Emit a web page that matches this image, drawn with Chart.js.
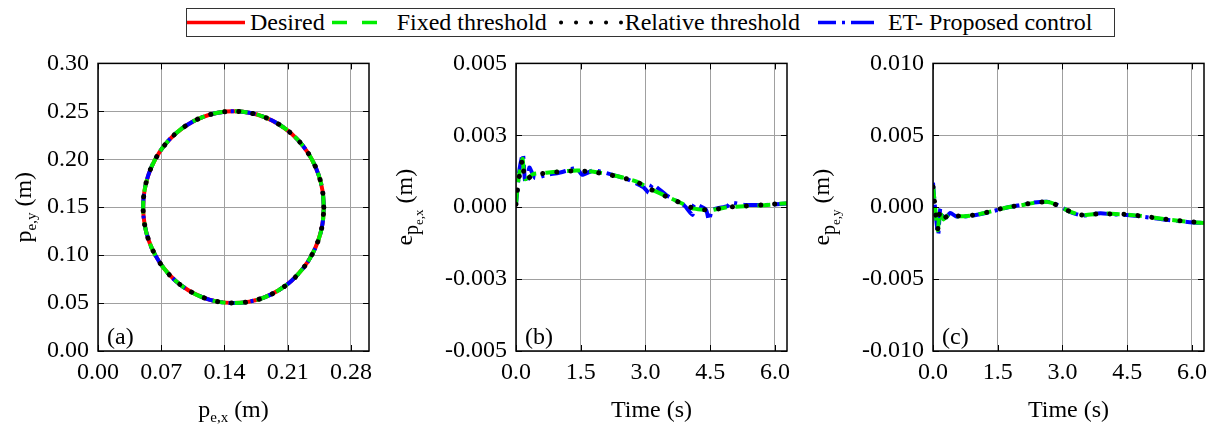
<!DOCTYPE html>
<html>
<head>
<meta charset="utf-8">
<script src="https://cdn.jsdelivr.net/npm/chart.js@4.4.1/dist/chart.umd.min.js"></script>
<style>
  body { margin: 0; width: 1215px; height: 431px; background: #fff; position: relative; overflow: hidden; font-family: "Liberation Serif", serif; }
  canvas { position: absolute; top: 40px; }
  #legend {
    position: absolute; left: 186px; top: 8px; width: 929px; height: 29px; box-sizing: border-box;
    border: 1px solid #333; display: flex; align-items: center; font-size: 24px; white-space: nowrap; color: #000;
  }
  #legend svg { display: block; flex: none; }
  #legend span { flex: none; }
</style>
</head>
<body>
<div id="legend">
  <svg width="58" height="27"><line x1="0" y1="13.5" x2="58" y2="13.5" stroke="#ff0000" stroke-width="3.5"/></svg>
  <span style="margin-left:5px">Desired</span>
  <svg width="47" height="27" style="margin-left:7px"><line x1="0" y1="13.5" x2="47" y2="13.5" stroke="#00ee00" stroke-width="3.5" stroke-dasharray="15 15"/></svg>
  <span style="margin-left:18px">Fixed threshold</span>
  <svg width="64" height="27" style="margin-left:12px"><line x1="2" y1="13.5" x2="62" y2="13.5" stroke="#000" stroke-width="4" stroke-linecap="round" stroke-dasharray="0.1 14.9"/></svg>
  <span style="margin-left:2px">Relative threshold</span>
  <svg width="56" height="27" style="margin-left:18px"><line x1="0" y1="13.5" x2="56" y2="13.5" stroke="#0000ff" stroke-width="3.5" stroke-dasharray="18 6 3 6 23"/></svg>
  <span style="margin-left:14px">ET- Proposed control</span>
</div>
<canvas id="ca" width="390" height="391" style="left:0px"></canvas>
<canvas id="cb" width="410" height="391" style="left:390px"></canvas>
<canvas id="cc" width="415" height="391" style="left:800px"></canvas>
<script>
// ---- data ----

// (a) end-effector path, same for all four cases at this scale
const pathX = [0.250, 0.2485, 0.2440, 0.2366, 0.2266, 0.2143, 0.2000, 0.1842, 0.1674, 0.150,
  0.1326, 0.1158, 0.1000, 0.0857, 0.0734, 0.0634, 0.0560, 0.0515, 0.050,
  0.0515, 0.0560, 0.0634, 0.0734, 0.0857, 0.1000, 0.1158, 0.1326, 0.150,
  0.1674, 0.1842, 0.2000, 0.2143, 0.2266, 0.2366, 0.2440, 0.2485, 0.250];
const pathY = [0.150, 0.1674, 0.1842, 0.2000, 0.2143, 0.2266, 0.2366, 0.2440, 0.2485, 0.250,
  0.2485, 0.2440, 0.2366, 0.2266, 0.2143, 0.2000, 0.1842, 0.1674, 0.150,
  0.1326, 0.1158, 0.1000, 0.0857, 0.0734, 0.0634, 0.0560, 0.0515, 0.050,
  0.0515, 0.0560, 0.0634, 0.0734, 0.0857, 0.1000, 0.1158, 0.1326, 0.150];

// (b) x position error
const timeBx = [0, 0.05, 0.15, 0.21, 0.40, 0.71, 1.02, 1.41, 1.80, 2.19, 2.53, 2.81, 3.08, 3.50, 3.89, 4.12, 4.51, 4.90, 5.29, 5.75, 6.28];
const exFixed = [0.0001, 0.0009, 0.00168, 0.00098, 0.00115, 0.0012, 0.00124, 0.00128, 0.00123, 0.00113, 0.00101, 0.00088, 0.00066, 0.00037, 0.0001, -0.00005, -0.0001, 0.0, 0.00003, 0.00007, 0.00014];
const exRel = [0.0001, 0.0008, 0.00165, 0.00095, 0.00112, 0.00119, 0.00123, 0.00127, 0.00122, 0.00112, 0.001, 0.00087, 0.00065, 0.00036, 0.0001, -0.00004, -0.0001, 0.0, 0.00004, 0.00008, 0.00015];
const timeBxEt = [0, 0.08, 0.16, 0.21, 0.27, 0.31, 0.44, 0.70, 1.00, 1.17, 1.40, 1.53, 1.80, 2.30, 2.60, 2.95, 3.08, 3.16, 3.50, 3.90, 4.09, 4.13, 4.40, 4.47, 4.55, 4.90, 4.98, 5.30, 5.80, 6.28];
const exEt = [0.0001, 0.0013, 0.00185, 0.0009, 0.00085, 0.00138, 0.00102, 0.00112, 0.0012, 0.00127, 0.00137, 0.00113, 0.00128, 0.0011, 0.00096, 0.0007, 0.0005, 0.00079, 0.0004, 0.00006, -0.00027, 0.0001, -0.00008, -0.00045, -0.0001, 0.00004, 0.00016, 0.00008, 0.00008, 0.00013];

// (c) y position error
const timeCy = [0, 0.05, 0.11, 0.16, 0.24, 0.39, 0.54, 0.89, 1.27, 1.66, 2.04, 2.34, 2.65, 2.84, 3.19, 3.46, 3.88, 4.14, 4.49, 4.87, 5.41, 5.95, 6.28];
const eyFixed = [0.0015, 0.0, -0.0016, -0.0003, -0.00085, -0.00048, -0.00062, -0.00058, -0.00035, -0.00005, 0.00014, 0.0003, 0.00037, 0.0002, -0.00033, -0.00055, -0.00044, -0.00046, -0.00051, -0.00062, -0.00085, -0.00102, -0.0011];
const eyRel = [0.0014, 0.0, -0.0015, -0.0003, -0.0008, -0.00046, -0.0006, -0.00057, -0.00034, -0.00004, 0.00015, 0.00031, 0.00036, 0.00019, -0.00032, -0.00054, -0.00045, -0.00047, -0.0005, -0.00063, -0.00084, -0.00101, -0.00108];
const timeCyEt = [0, 0.04, 0.12, 0.17, 0.25, 0.40, 0.54, 0.89, 1.27, 1.66, 2.04, 2.34, 2.65, 2.84, 3.19, 3.46, 3.88, 4.14, 4.49, 4.87, 5.41, 5.95, 6.28];
const eyEt = [0.0017, 0.0002, -0.0019, -0.0001, -0.0009, -0.0004, -0.00065, -0.0006, -0.00037, -0.00006, 0.00016, 0.00033, 0.00038, 0.00022, -0.00035, -0.00058, -0.00042, -0.00049, -0.00055, -0.00066, -0.00088, -0.00104, -0.0011];

// ticks
const pathTicks = [0, 0.07, 0.14, 0.21, 0.28];
const pathTickLabels = ['0.00', '0.07', '0.14', '0.21', '0.28'];
const pathYTicks = [0, 0.05, 0.10, 0.15, 0.20, 0.25, 0.30];
const pathYTickLabels = ['0.00', '0.05', '0.10', '0.15', '0.20', '0.25', '0.30'];
const timeTicks = [0, 1.5, 3.0, 4.5, 6.0];
const timeTickLabels = ['0.0', '1.5', '3.0', '4.5', '6.0'];
const exTicks = [-0.005, -0.0025, 0, 0.0025, 0.005];
const exTickLabels = ['-0.005', '-0.003', '0.000', '0.003', '0.005'];
const eyTicks = [-0.010, -0.005, 0, 0.005, 0.010];
const eyTickLabels = ['-0.010', '-0.005', '0.000', '0.005', '0.010'];

// ---- drawing ----
const FONT = '"Liberation Serif", "Times New Roman", serif';
const pts = (xs, ys) => xs.map((v, i) => ({ x: v, y: ys[i] }));

const styles = {
  desired: { borderColor: '#ff0000', borderWidth: 4 },
  fixed: { borderColor: '#00ee00', borderWidth: 4, borderDash: [13, 9] },
  rel: { borderColor: '#000000', borderWidth: 5, borderDash: [0.1, 14], borderCapStyle: 'round' },
  et: { borderColor: '#0000ff', borderWidth: 4, borderDash: [16, 6, 3, 6] }
};

// draw text pieces with sub/subsub scripts; centred on (x, y) baseline
function drawRuns(ctx, runs, x, y, rotate) {
  let total = 0;
  runs.forEach(r => { ctx.font = r[1] + 'px ' + FONT; total += ctx.measureText(r[0]).width; });
  ctx.save();
  ctx.translate(x, y);
  if (rotate) ctx.rotate(-Math.PI / 2);
  ctx.textBaseline = 'alphabetic';
  ctx.textAlign = 'left';
  ctx.fillStyle = '#000';
  let pos = -total / 2;
  runs.forEach(r => {
    ctx.font = r[1] + 'px ' + FONT;
    ctx.fillText(r[0], pos, r[2]);
    pos += ctx.measureText(r[0]).width;
  });
  ctx.restore();
}

const framePlugin = {
  id: 'frame',
  afterDraw(chart, args, opts) {
    const { ctx, chartArea: a } = chart;
    const xs = chart.scales.x, ys = chart.scales.y;
    ctx.save();
    ctx.strokeStyle = '#000';
    ctx.lineWidth = 1;
    ctx.beginPath();
    xs.ticks.forEach(t => {
      const p = Math.round(xs.getPixelForValue(t.value)) + 0.5;
      ctx.moveTo(p, a.bottom); ctx.lineTo(p, a.bottom - 6);
      ctx.moveTo(p, a.top); ctx.lineTo(p, a.top + 6);
    });
    ys.ticks.forEach(t => {
      const p = Math.round(ys.getPixelForValue(t.value)) + 0.5;
      ctx.moveTo(a.left, p); ctx.lineTo(a.left + 6, p);
      ctx.moveTo(a.right, p); ctx.lineTo(a.right - 6, p);
    });
    ctx.stroke();
    ctx.lineWidth = 1.5;
    ctx.strokeRect(a.left, a.top, a.right - a.left, a.bottom - a.top);
    ctx.font = '24px ' + FONT;
    ctx.fillStyle = '#000';
    ctx.fillText(opts.tag, a.left + 9, a.bottom - 7);
    ctx.restore();
    drawRuns(ctx, opts.xTitle, (a.left + a.right) / 2, 377, false);
    drawRuns(ctx, opts.yTitle, opts.yTitleX, (a.top + a.bottom) / 2, true);
  }
};

function axis(min, max, ticks, labels, fit) {
  return {
    type: 'linear', min: min, max: max,
    afterBuildTicks: s => { s.ticks = ticks.map(v => ({ value: v })); },
    afterFit: fit,
    grid: { color: '#a0a0a0', lineWidth: 1, drawTicks: false },
    border: { display: false },
    ticks: {
      color: '#000', font: { family: FONT, size: 24 },
      callback: (v, i) => labels[i]
    }
  };
}

function makeChart(id, datasets, o) {
  const xAx = axis(o.xMin, o.xMax, o.xTicks, o.xLabels, s => { s.height = 80; });
  xAx.ticks.padding = 7;
  xAx.ticks.maxRotation = 0;
  const yAx = axis(o.yMin, o.yMax, o.yTicks, o.yLabels, s => { s.width = o.yWidth; });
  yAx.ticks.padding = 9;
  return new Chart(document.getElementById(id), {
    type: 'scatter',
    data: { datasets: datasets },
    options: {
      responsive: false, animation: false, devicePixelRatio: 1,
      layout: { padding: { top: 22, right: o.padRight, left: 0, bottom: 0 } },
      elements: { point: { radius: 0 }, line: { tension: o.tension } },
      scales: { x: xAx, y: yAx },
      plugins: {
        legend: { display: false }, tooltip: { enabled: false },
        frame: { tag: o.tag, xTitle: o.xTitle, yTitle: o.yTitle, yTitleX: o.yTitleX }
      }
    },
    plugins: [framePlugin]
  });
}

const line = (data, st) => Object.assign({ data: data, showLine: true, fill: false }, st);

// (a)
makeChart('ca', [
  line(pts(pathX, pathY), styles.rel),
  line(pts(pathX, pathY), styles.fixed),
  line(pts(pathX, pathY), styles.et),
  line(pts(pathX, pathY), styles.desired)
], {
  xMin: 0, xMax: 0.30, xTicks: pathTicks, xLabels: pathTickLabels,
  yMin: 0, yMax: 0.30, yTicks: pathYTicks, yLabels: pathYTickLabels,
  yWidth: 98, padRight: 21, tension: 0.4, tag: '(a)',
  xTitle: [['p', 24, 0], ['e,x', 15, 5], [' (m)', 24, 0]],
  yTitle: [['p', 24, 0], ['e,y', 15, 5], [' (m)', 24, 0]],
  yTitleX: 31
});

// (b)
makeChart('cb', [
  line(pts(timeBx, exRel), styles.rel),
  line(pts(timeBx, exFixed), styles.fixed),
  line(pts(timeBxEt, exEt), styles.et)
], {
  xMin: 0, xMax: 6.28, xTicks: timeTicks, xLabels: timeTickLabels,
  yMin: -0.005, yMax: 0.005, yTicks: exTicks, yLabels: exTickLabels,
  yWidth: 126, padRight: 13, tension: 0.2, tag: '(b)',
  xTitle: [['Time (s)', 24, 0]],
  yTitle: [['e', 24, 0], ['p', 20, 6], ['e,x', 13, 11], [' (m)', 24, 0]],
  yTitleX: 22
});

// (c)
makeChart('cc', [
  line(pts(timeCy, eyRel), styles.rel),
  line(pts(timeCy, eyFixed), styles.fixed),
  line(pts(timeCyEt, eyEt), styles.et)
], {
  xMin: 0, xMax: 6.28, xTicks: timeTicks, xLabels: timeTickLabels,
  yMin: -0.010, yMax: 0.010, yTicks: eyTicks, yLabels: eyTickLabels,
  yWidth: 133, padRight: 11, tension: 0.2, tag: '(c)',
  xTitle: [['Time (s)', 24, 0]],
  yTitle: [['e', 24, 0], ['p', 20, 6], ['e,y', 13, 11], [' (m)', 24, 0]],
  yTitleX: 29
});
</script>
</body>
</html>
